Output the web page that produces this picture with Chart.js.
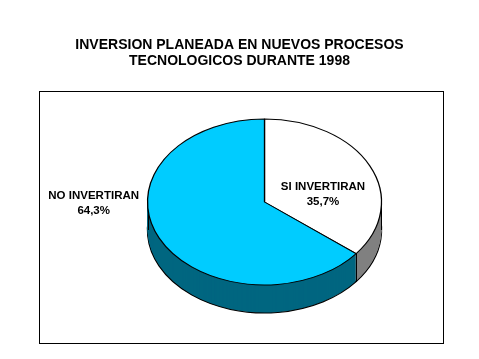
<!DOCTYPE html>
<html>
<head>
<meta charset="utf-8">
<script src="https://cdn.jsdelivr.net/npm/chart.js@4/dist/chart.umd.min.js"></script>
<style>
  html, body { margin: 0; padding: 0; background: #fff; }
  #wrap { width: 479px; height: 359px; }
</style>
</head>
<body>
<div id="wrap"><canvas id="pie-chart"></canvas></div>
<script>
// data
const categories = ["SI INVERTIRAN", "NO INVERTIRAN"];
const shares = [35.7, 64.3];
const shareLabels = ["35,7%", "64,3%"];
const titleLines = ["INVERSION PLANEADA EN NUEVOS PROCESOS", "TECNOLOGICOS DURANTE 1998"];

const topColors = ["#ffffff", "#00ccff"];
const sideColors = ["#808080", "#006680"];

const FONT = "'Liberation Sans', Arial, sans-serif";
const TILT = 83 / 117; // vertical squash of the pie
const DEPTH = 28;
const SHIFT_X = 25; // pie sits right of the page centre

// label anchor as fraction of radius from the centre (x, y on the squashed face)
const labelAnchors = [
  { fx: 0.5, fy: -0.09 },
  { fx: -1.46, fy: 0.02 },
];

function squash(ctx, cx, cy) {
  ctx.translate(cx, cy);
  ctx.scale(1, TILT);
  ctx.translate(-cx, -cy);
}

function edgeX(x, c) {
  if (c > 0.99) return Math.round(x) - 0.5;
  return Math.round(x) + 0.5;
}

const pie3d = {
  id: "pie3d",
  beforeDraw(chart) {
    const ctx = chart.ctx;
    ctx.save();
    ctx.strokeStyle = "#000";
    ctx.lineWidth = 1;
    ctx.strokeRect(39.5, 91.5, 404, 252);
    ctx.restore();
  },
  beforeDatasetsDraw(chart) {
    const ctx = chart.ctx;
    const arcs = chart.getDatasetMeta(0).data;
    const cx = arcs[0].x;
    const cy = arcs[0].y;

    ctx.save();
    ctx.translate(SHIFT_X, 0);

    // side walls, drawn bottom up
    for (let d = DEPTH; d >= 1; d--) {
      arcs.forEach((arc, i) => {
        const orig = arc.options;
        arc.options = Object.assign({}, orig, {
          backgroundColor: sideColors[i],
          borderColor: "#000",
          borderWidth: d === DEPTH ? 1.4 : 0,
        });
        ctx.save();
        ctx.translate(0, d);
        squash(ctx, cx, cy);
        arc.draw(ctx);
        ctx.restore();
        arc.options = orig;
      });
    }

    // vertical edges on the front half
    const r = arcs[0].outerRadius;
    const edges = [0, Math.PI];
    arcs.forEach((arc) => {
      [arc.startAngle, arc.endAngle].forEach((a) => {
        const n = ((a % (2 * Math.PI)) + 2 * Math.PI) % (2 * Math.PI);
        if (n > 0 && n < Math.PI) edges.push(n);
      });
    });
    ctx.strokeStyle = "#000";
    ctx.lineWidth = 1;
    edges.forEach((a) => {
      const c = Math.cos(a);
      const x = edgeX(cx + c * r, c);
      const y = cy + Math.sin(a) * r * TILT;
      ctx.beginPath();
      ctx.moveTo(x, y);
      ctx.lineTo(x, y + DEPTH);
      ctx.stroke();
    });

    // top face is drawn by chart.js under this transform
    squash(ctx, cx, cy);
  },
  afterDatasetsDraw(chart) {
    const ctx = chart.ctx;
    ctx.restore();

    const arcs = chart.getDatasetMeta(0).data;
    const cx = arcs[0].x + SHIFT_X;
    const cy = arcs[0].y;
    const r = arcs[0].outerRadius;
    ctx.save();
    ctx.fillStyle = "#000";
    ctx.font = "bold 11.5px " + FONT;
    ctx.textAlign = "center";
    ctx.textBaseline = "middle";
    arcs.forEach((arc, i) => {
      const x = cx + labelAnchors[i].fx * r;
      const y = cy + labelAnchors[i].fy * r * TILT;
      ctx.fillText(categories[i], x, y - 7.5);
      ctx.fillText(shareLabels[i], x, y + 7.5);
    });
    ctx.restore();
  },
};

const config = {
  type: "pie",
  data: {
    labels: categories,
    datasets: [
      {
        data: shares,
        backgroundColor: topColors,
        borderColor: "#000",
        borderWidth: 1.3,
        radius: 117,
        hoverOffset: 0,
      },
    ],
  },
  options: {
    responsive: true,
    maintainAspectRatio: false,
    animation: false,
    events: [],
    layout: {
      padding: { left: 0, right: 0, top: 0, bottom: 24 },
    },
    plugins: {
      legend: { display: false },
      tooltip: { enabled: false },
      title: {
        display: true,
        text: titleLines,
        color: "#000",
        font: { family: FONT, size: 14, weight: "bold", lineHeight: 16 / 14 },
        padding: { top: 37, bottom: 0 },
      },
    },
  },
  plugins: [pie3d],
};

const ctx = document.getElementById("pie-chart").getContext("2d");
const pieChart = new Chart(ctx, config);
</script>
</body>
</html>
